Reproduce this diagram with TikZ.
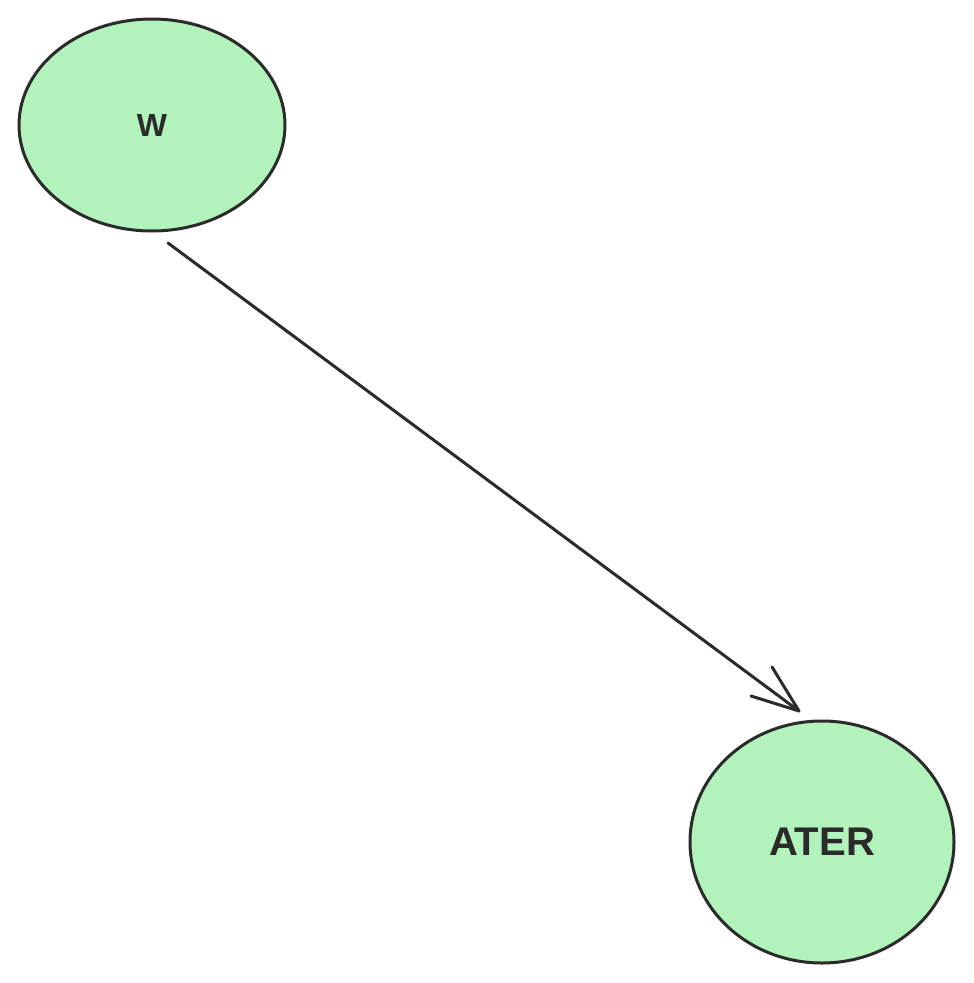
\documentclass[tikz,border=0pt]{standalone}
\usepackage{fontspec}
\setmainfont{Liberation Sans}
\usetikzlibrary{shapes.geometric}
\definecolor{nodefill}{HTML}{B2F2BB}
\definecolor{ink}{HTML}{2B2B2B}
\begin{document}
\begin{tikzpicture}[x=1pt,y=-1pt,
  blob/.style={ellipse, draw=ink, fill=nodefill, line width=3pt, inner sep=0pt, text=ink},
  link/.style={draw=ink, line width=3pt, line cap=round, line join=round}]
\useasboundingbox (0,0) rectangle (974,983);
\node[blob, minimum width=266pt, minimum height=212pt, font=\bfseries\fontsize{32}{36}\selectfont] (w) at (152,125) {W};
\node[blob, minimum width=264pt, minimum height=242pt, font=\bfseries\fontsize{40}{46}\selectfont] (ater) at (822,842) {ATER};
\coordinate (s) at (168,243);
\coordinate (t) at (799,711);
\coordinate (h1) at (772,667);
\coordinate (h2) at (751,696);
\draw[link] (s) -- (t);
\draw[link] (h1) -- (t) -- (h2);
\end{tikzpicture}
\end{document}
